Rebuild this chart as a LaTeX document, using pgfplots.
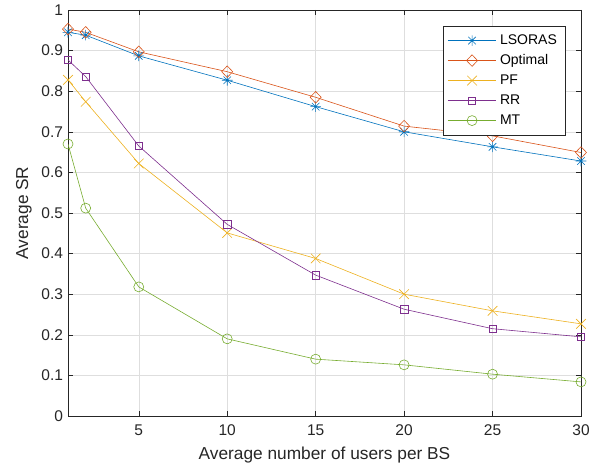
\documentclass[border=0pt]{standalone}
\usepackage{fontspec}
\setmainfont{Liberation Sans}
\usepackage{pgfplots}
\pgfplotsset{compat=1.18}
\usetikzlibrary{plotmarks}
\definecolor{c1}{rgb}{0,0.447,0.741}
\definecolor{c2}{rgb}{0.85,0.325,0.098}
\definecolor{c3}{rgb}{0.929,0.694,0.125}
\definecolor{c4}{rgb}{0.494,0.184,0.556}
\definecolor{c5}{rgb}{0.466,0.674,0.188}
\definecolor{axc}{rgb}{0.15,0.15,0.15}
\pgfdeclareplotmark{mstar}{%
 \pgfpathmoveto{\pgfqpoint{0pt}{\pgfplotmarksize}}\pgfpathlineto{\pgfqpoint{0pt}{-\pgfplotmarksize}}%
 \pgfpathmoveto{\pgfqpoint{\pgfplotmarksize}{0pt}}\pgfpathlineto{\pgfqpoint{-\pgfplotmarksize}{0pt}}%
 \pgfpathmoveto{\pgfqpoint{.707\pgfplotmarksize}{.707\pgfplotmarksize}}\pgfpathlineto{\pgfqpoint{-.707\pgfplotmarksize}{-.707\pgfplotmarksize}}%
 \pgfpathmoveto{\pgfqpoint{-.707\pgfplotmarksize}{.707\pgfplotmarksize}}\pgfpathlineto{\pgfqpoint{.707\pgfplotmarksize}{-.707\pgfplotmarksize}}%
 \pgfusepathqstroke}
\pgfdeclareplotmark{mdiamond}{%
 \pgfpathmoveto{\pgfqpoint{0pt}{\pgfplotmarksize}}%
 \pgfpathlineto{\pgfqpoint{0.95\pgfplotmarksize}{0pt}}%
 \pgfpathlineto{\pgfqpoint{0pt}{-\pgfplotmarksize}}%
 \pgfpathlineto{\pgfqpoint{-0.95\pgfplotmarksize}{0pt}}%
 \pgfpathclose\pgfusepathqstroke}
\begin{document}
\begin{tikzpicture}
\begin{axis}[
  name=ax,
  width=513pt, height=406pt, scale only axis,
  xmin=1, xmax=30, ymin=0, ymax=1,
  xtick={5,10,15,20,25,30},
  ytick={0,0.1,...,1.0},
  yticklabels={0,0.1,0.2,0.3,0.4,0.5,0.6,0.7,0.8,0.9,1},
  grid=major,
  major grid style={color=black!13, line width=0.5pt},
  axis line style={color=axc, line width=0.6pt},
  tick style={color=axc, line width=0.5pt},
  major tick length=5pt,
  tick align=inside,
  /pgf/number format/assume math mode=true,
  tick label style={font=\fontsize{15.5}{17}\selectfont, text=axc},
  xticklabel style={yshift=-5pt},
  yticklabel style={xshift=-1.5pt},
  label style={font=\fontsize{17.3}{19}\selectfont, text=axc},
  xlabel={Average number of users per BS},
  ylabel={Average SR},
  xlabel style={at={(axis description cs:0.5,-0.096)}, anchor=center},
  ylabel style={at={(axis description cs:-0.0858,0.5)}, anchor=center, rotate=0},
  legend style={at={(0.969,0.961)}, anchor=north east, draw=axc, line width=0.5pt,
    font=\fontsize{14}{16}\selectfont, text=black, inner sep=4.5pt,
    row sep=0pt, nodes={text height=10pt, text depth=3pt, inner sep=3.5pt}},
  legend cell align=left,
  legend image code/.code={\draw[mark repeat=2,mark phase=2] plot coordinates {(0cm,0cm) (0.85cm,0cm) (1.7cm,0cm)};},
  every axis plot/.append style={line width=0.6pt},
]
\addplot[color=c1, mark=mstar, mark size=5.3pt, mark options={solid}] coordinates {
 (1,0.945) (2,0.938) (5,0.887) (10,0.827) (15,0.762) (20,0.700) (25,0.663) (30,0.628)};
\addlegendentry{LSORAS}
\addplot[color=c2, mark=mdiamond, mark size=5.8pt, mark options={solid}] coordinates {
 (1,0.953) (2,0.945) (5,0.897) (10,0.848) (15,0.785) (20,0.714) (25,0.690) (30,0.649)};
\addlegendentry{Optimal}
\addplot[color=c3, mark=x, mark size=6.8pt, mark options={solid}] coordinates {
 (1,0.828) (2,0.774) (5,0.622) (10,0.451) (15,0.388) (20,0.300) (25,0.259) (30,0.227)};
\addlegendentry{PF}
\addplot[color=c4, mark=square, mark size=3.7pt, mark options={solid}] coordinates {
 (1,0.877) (2,0.836) (5,0.665) (10,0.472) (15,0.347) (20,0.263) (25,0.215) (30,0.195)};
\addlegendentry{RR}
\addplot[color=c5, mark=o, mark size=5pt, mark options={solid}] coordinates {
 (1,0.670) (2,0.512) (5,0.318) (10,0.190) (15,0.140) (20,0.126) (25,0.103) (30,0.084)};
\addlegendentry{MT}
\end{axis}
\path[use as bounding box] ([shift={(-68pt,-52pt)}]ax.south west) rectangle ([shift={(22pt,10pt)}]ax.north east);
\end{tikzpicture}
\end{document}
